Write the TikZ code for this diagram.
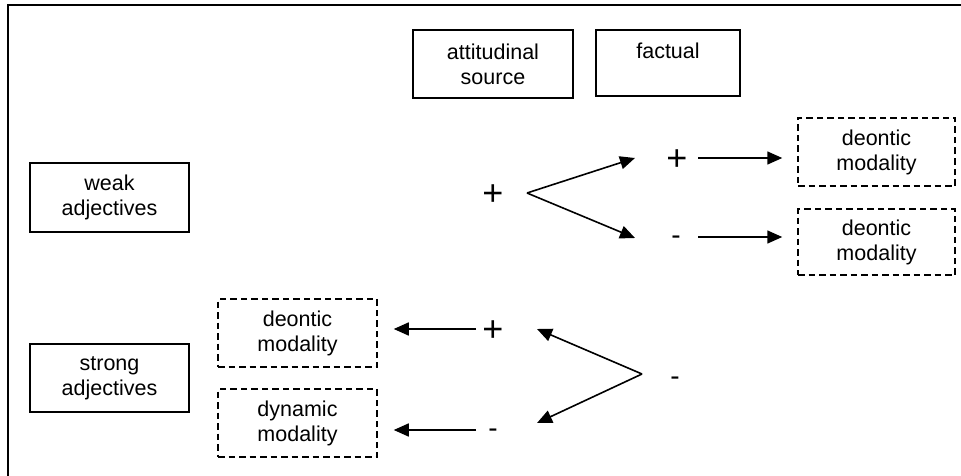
\documentclass[tikz,border=0pt]{standalone}
\usepackage{fontspec}
\setmainfont{Liberation Sans}
\usetikzlibrary{arrows.meta,calc}
\begin{document}
\begin{tikzpicture}[x=1pt,y=-1pt,
  box/.style={draw, line width=1.5pt, inner sep=0pt, align=center,
    font=\fontsize{21.5}{25}\selectfont},
  dbox/.style={box, dash pattern=on 6.5pt off 4pt},
  plussign/.style={inner sep=0pt, font=\fontsize{36}{36}\selectfont,
    text height=25.3pt, text depth=0pt},
  minussign/.style={inner sep=0pt, font=\fontsize{28}{28}\selectfont,
    text height=14.8pt, text depth=0pt},
  arr/.style={line width=1.6pt, -{Triangle[length=15pt,width=13pt]}}]

\useasboundingbox (0,0) rectangle (961,476);

% outer frame (top and left edges)
\draw[line width=2.2pt] (8,476) -- (8,5) -- (961,5);

% source boxes
\node[box, minimum width=160pt, minimum height=68pt] (att) at (493,64) {attitudinal\\source};
\node[box, minimum width=144pt, minimum height=66pt] (fact) at (668,63) {factual\\\mbox{}};

% adjective classes
\node[box, minimum width=159pt, minimum height=69pt] (weak) at (109.5,197.5) {weak\\adjectives};
\node[box, minimum width=159pt, minimum height=68pt] (strong) at (109.5,378) {strong\\adjectives};

% modality outcomes
\node[dbox, minimum width=159pt, minimum height=68pt] (dl) at (297.5,333) {deontic\\modality};
\node[dbox, minimum width=159pt, minimum height=68pt] (dyn) at (297.5,423) {dynamic\\modality};
\node[dbox, minimum width=157pt, minimum height=68pt] (dr1) at (876.5,152) {deontic\\modality};
\node[dbox, minimum width=157pt, minimum height=66pt] (dr2) at (876.5,242) {deontic\\modality};

% polarity signs
\node[plussign] (s0) at (493,193) {+};
\node[plussign] (s1) at (677,158) {+};
\node[minussign] (s2) at (676,237) {-};
\node[plussign] (s3) at (493,329) {+};
\node[minussign] (s4) at (493,430) {-};
\node[minussign] (s5) at (675,378) {-};

% branching from the positive source
\coordinate (v0) at (527,193);
\coordinate (v0a) at (635,158);
\coordinate (v0b) at (635,238);
\draw[arr] (v0) -- (v0a);
\draw[arr] (v0) -- (v0b);

% branching from the negative source
\coordinate (v1) at (642,374);
\coordinate (v1a) at (537,329);
\coordinate (v1b) at (537,423);
\draw[arr] (v1) -- (v1a);
\draw[arr] (v1) -- (v1b);

% sign to modality
\draw[arr] ([xshift=21pt]s1.center) -- ($(dr1.west |- s1.center)+(-15,0)$);
\draw[arr] ([xshift=22pt]s2.center) -- ($(dr2.west |- s2.center)+(-15,0)$);
\draw[arr] ([xshift=-17pt]s3.center) -- ($(dl.east |- s3.center)+(16,0)$);
\draw[arr] ([xshift=-17pt]s4.center) -- ($(dyn.east |- s4.center)+(16,0)$);

\end{tikzpicture}
\end{document}
